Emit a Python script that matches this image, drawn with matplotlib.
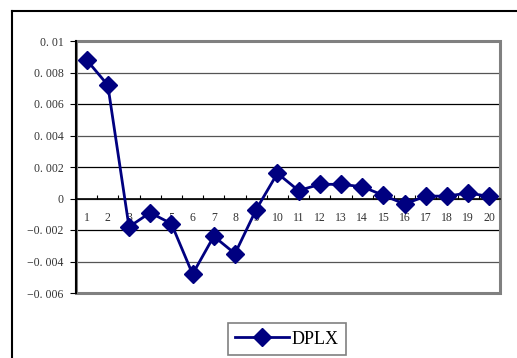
import matplotlib
matplotlib.use("Agg")
import matplotlib.pyplot as plt
from matplotlib.lines import Line2D
from matplotlib.patches import Rectangle
from matplotlib.ticker import FixedLocator, FuncFormatter

periods = list(range(1, 21))
dplx = [0.0088, 0.0072, -0.0018, -0.0009, -0.0016, -0.0048, -0.0024, -0.0035,
        -0.0007, 0.0016, 0.0005, 0.0009, 0.0009, 0.00075, 0.0002, -0.00035,
        0.00015, 0.00015, 0.00035, 0.00013]
y_ticks = [-0.006, -0.004, -0.002, 0, 0.002, 0.004, 0.006, 0.008, 0.01]
series_name = "DPLX"

navy = "#000080"
serif = ["Liberation Serif", "DejaVu Serif"]

fig = plt.figure(figsize=(5.17, 3.58), dpi=100)
W, H = 517, 358

# outer chart frame
fig.add_artist(Line2D([12 / W, 12 / W], [0, 1 - 11 / H], transform=fig.transFigure,
                      color="black", lw=1.5))
fig.add_artist(Line2D([12 / W, 1], [1 - 11 / H, 1 - 11 / H], transform=fig.transFigure,
                      color="black", lw=1.5))

ax = fig.add_axes([76 / W, 1 - 293 / H, (500 - 76) / W, (293 - 41) / H])
ax.set_xlim(0.5, 20.5)
ax.set_ylim(-0.006, 0.01)

# horizontal gridlines
for i, v in enumerate(y_ticks[1:-1]):
    ax.axhline(v, color="black" if i % 2 == 1 else "#555555", lw=0.9, zorder=1)

# plot area border (gray) and left axis (black)
for s in ("top", "right"):
    ax.spines[s].set_visible(False)
ax.add_patch(Rectangle((0, 0), 1, 1, transform=ax.transAxes, fill=False,
                       edgecolor="#808080", lw=2.2, zorder=2, clip_on=False))
ax.spines["left"].set_color("black")
ax.spines["left"].set_linewidth(1.5)
ax.spines["left"].set_zorder(3)

# category axis along zero
ax.spines["bottom"].set_position(("data", 0))
ax.spines["bottom"].set_color("black")
ax.spines["bottom"].set_linewidth(1.2)
ax.xaxis.set_major_locator(FixedLocator([p + 0.5 for p in periods]))
ax.xaxis.set_major_formatter(FuncFormatter(lambda x, pos: ""))
ax.xaxis.set_minor_locator(FixedLocator(periods))
ax.xaxis.set_minor_formatter(FuncFormatter(lambda x, pos: f"{int(round(x))}"))
ax.tick_params(axis="x", which="major", direction="in", length=3, width=0.8, color="black")
ax.tick_params(axis="x", which="minor", length=0, pad=10, labelsize=8.5,
               labelcolor="#333333")


def ylabel(v, pos):
    if abs(v) < 1e-12:
        return "0"
    s = f"{v:g}".replace("-", "\u2212")
    return s.replace(".", ". ")


ax.yaxis.set_major_locator(FixedLocator(y_ticks))
ax.yaxis.set_major_formatter(FuncFormatter(ylabel))
ax.tick_params(axis="y", direction="out", length=4, width=0.8, pad=5, labelsize=8.5,
               labelcolor="#333333")
for lab in ax.get_xticklabels(minor=True) + ax.get_yticklabels():
    lab.set_family(serif)

line, = ax.plot(periods, dplx, color=navy, lw=2, marker="D", markersize=9.5,
                markerfacecolor=navy, markeredgecolor=navy, zorder=4, clip_on=False)

leg = fig.legend([line], [series_name], loc="center",
                 bbox_to_anchor=(287 / W, 1 - 339 / H), frameon=True, fancybox=False,
                 handlelength=3.0, handletextpad=0.15, borderpad=0.4,
                 prop={"family": serif, "size": 13})
leg.get_frame().set_edgecolor("#606060")
leg.get_frame().set_linewidth(1.2)

fig.savefig("out.png", dpi=100)
